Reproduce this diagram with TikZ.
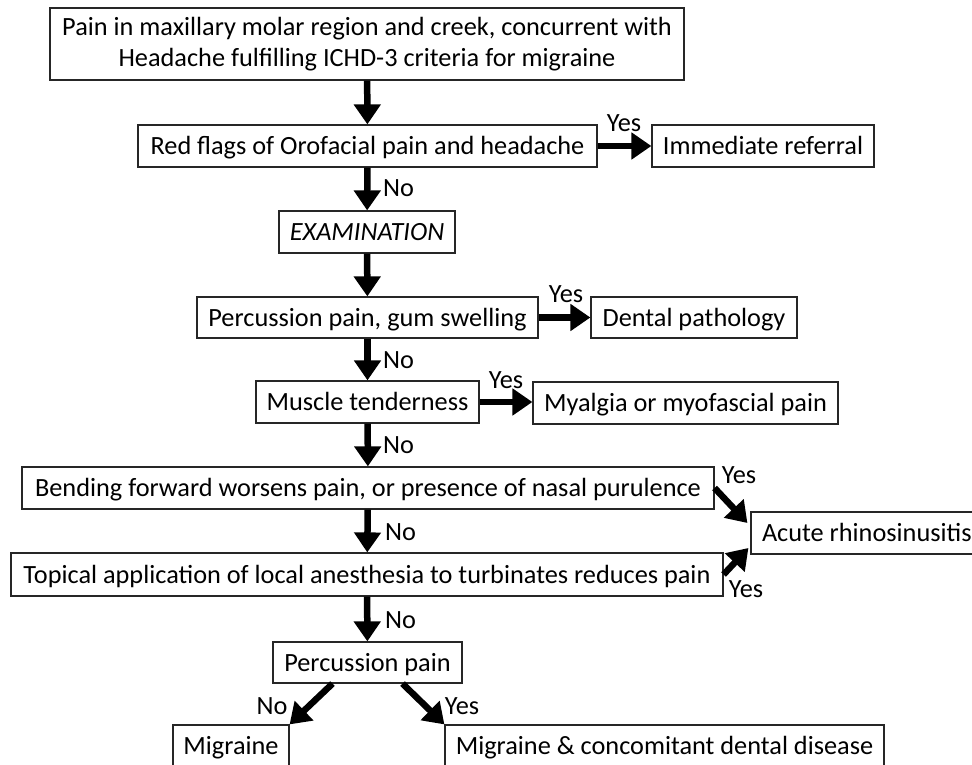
\documentclass[tikz,border=0pt]{standalone}
\usepackage{fontspec}
\setmainfont{Carlito}
\usetikzlibrary{arrows.meta}
\newcommand{\fsz}{\fontsize{26.3pt}{31pt}\selectfont}
\begin{document}
\begin{tikzpicture}[x=1pt,y=-1pt,
  box/.style={draw=black!85, line width=1.2pt, minimum height=42pt, inner sep=0pt,
    text height=17pt, text depth=0pt, font=\fsz},
  arr/.style={line width=6.5pt, -{Triangle[length=20pt,width=26pt]}},
  lbl/.style={inner sep=0pt, font=\fsz, text height=17pt, text depth=0pt}]
\clip (0,0) rectangle (972,765);
\fill[white] (0,0) rectangle (972,765);
% nodes
\node[draw=black!85, line width=1.2pt, inner sep=0pt, minimum width=634pt, minimum height=72pt,
  align=center, font=\fsz] (top) at (367,44)
  {Pain in maxillary molar region and creek, concurrent with\\Headache fulfilling ICHD-3 criteria for migraine};
\node[box, minimum width=459pt] (red) at (367.5,146) {Red flags of Orofacial pain and headache};
\node[box, minimum width=222pt] (imm) at (763,146) {Immediate referral};
\node[box, minimum width=176pt] (exam) at (367,232) {\itshape EXAMINATION};
\node[box, minimum width=341pt, minimum height=41pt] (perc) at (367.5,317.5) {Percussion pain, gum swelling};
\node[box, minimum width=206pt, minimum height=41pt] (dental) at (694,317.5) {Dental pathology};
\node[box, minimum width=223pt] (muscle) at (367.5,402) {Muscle tenderness};
\node[box, minimum width=305pt] (myal) at (685.5,403) {Myalgia or myofascial pain};
\node[box, minimum width=692pt] (bend) at (368,488) {Bending forward worsens pain, or presence of nasal purulence};
\node[box, minimum width=238pt] (acute) at (870,533) {\makebox[238pt][l]{\hspace*{11pt}Acute rhinosinusitis}};
\node[box, minimum width=712pt, minimum height=43pt] (topi) at (367,574.5) {Topical application of local anesthesia to turbinates reduces pain};
\node[box, minimum width=189pt, minimum height=41pt] (perc2) at (367.5,662.5) {Percussion pain};
\node[box, minimum width=116pt] (mig) at (231,746) {Migraine};
\node[box, minimum width=439pt] (migd) at (664.5,746) {Migraine \& concomitant dental disease};
% arrows
\draw[arr] (top) -- (red);
\draw[arr] (red) -- (exam);
\draw[arr] (exam) -- (perc);
\draw[arr] (perc) -- (muscle);
\draw[arr] (muscle) -- (bend);
\draw[arr] (bend) -- (topi);
\draw[arr] (topi) -- (perc2);
\draw[arr] (red) -- (imm);
\draw[arr] (perc) -- (dental);
\draw[arr] (muscle.east) -- (myal.west |- muscle.east);
\draw[arr] (bend.east) -- ([xshift=-3pt,yshift=10pt]acute.west);
\draw[arr] (topi.east) -- ([xshift=-2pt,yshift=-15pt]acute.west);
\draw[arr] ([xshift=-35pt]perc2.south) -- (mig.north east);
\draw[arr] ([xshift=35pt]perc2.south) -- (migd.north west);
% labels
\node[lbl] (y1) at (624,123) {Yes};
\node[lbl, anchor=west] (n1) at (383,188) {No};
\node[lbl] (y2) at (566,294) {Yes};
\node[lbl, anchor=west] (n2) at (383,360) {No};
\node[lbl] (y3) at (506,380) {Yes};
\node[lbl, anchor=west] (n3) at (383,445) {No};
\node[lbl, anchor=west] (n4) at (385,532) {No};
\node[lbl, anchor=west] (n5) at (385,620) {No};
\node[lbl] (y4) at (739,475) {Yes};
\node[lbl] (y5) at (746,589) {Yes};
\node[lbl] (n6) at (272,706) {No};
\node[lbl] (y6) at (462,706) {Yes};
\end{tikzpicture}
\end{document}
